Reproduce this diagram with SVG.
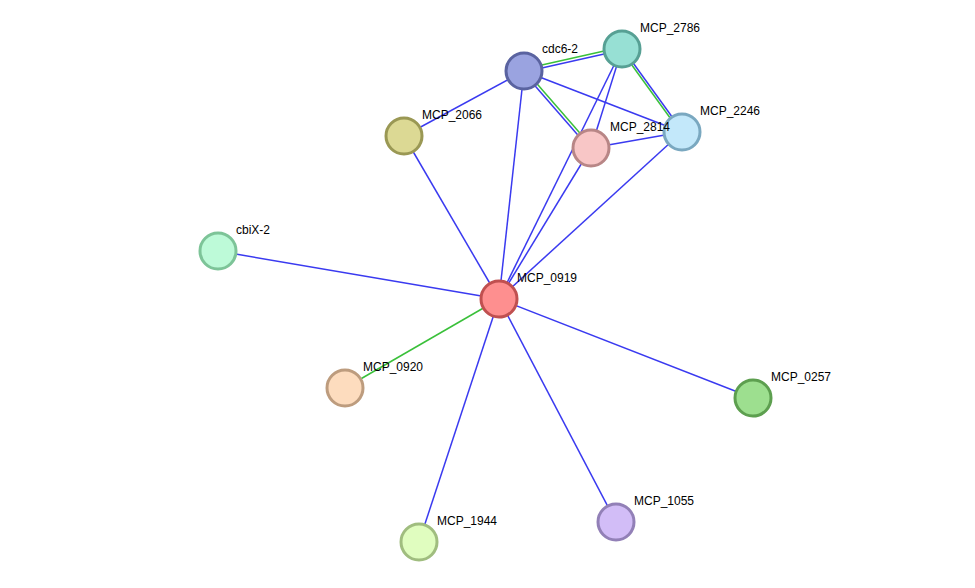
<svg xmlns="http://www.w3.org/2000/svg" width="975" height="588" viewBox="0 0 975 588">
<style>
.b{stroke:#3a3af0;stroke-width:1.5;fill:none}
.g{stroke:#3ac03a;stroke-width:1.5;fill:none}
circle{stroke-width:3}
text{font-family:"Liberation Sans",Arial,sans-serif;font-size:12px;fill:#000}
</style>
<rect width="975" height="588" fill="#fff"/>
<g id="edges">
<line class="b" x1="524" y1="71" x2="499" y2="299"/>
<line class="b" x1="524" y1="71" x2="404" y2="136"/>
<line class="b" x1="524" y1="71" x2="682" y2="132"/>
<line class="b" x1="524" y1="72" x2="622" y2="50"/>
<line class="g" x1="524" y1="69" x2="622" y2="47"/>
<line class="b" x1="523" y1="72" x2="590" y2="149"/>
<line class="g" x1="525" y1="70" x2="592" y2="147"/>
<line class="b" x1="623" y1="49" x2="683" y2="132"/>
<line class="g" x1="621" y1="50" x2="681" y2="133"/>
<line class="b" x1="622" y1="49" x2="591" y2="148"/>
<line class="b" x1="622" y1="49" x2="499" y2="299"/>
<line class="b" x1="591" y1="148" x2="682" y2="132"/>
<line class="b" x1="591" y1="148" x2="499" y2="299"/>
<line class="b" x1="682" y1="132" x2="499" y2="299"/>
<line class="b" x1="404" y1="136" x2="499" y2="299"/>
<line class="b" x1="218" y1="251" x2="499" y2="299"/>
<line class="g" x1="345" y1="388" x2="499" y2="299"/>
<line class="b" x1="753" y1="398" x2="499" y2="299"/>
<line class="b" x1="616" y1="522" x2="499" y2="299"/>
<line class="b" x1="419" y1="542" x2="499" y2="299"/>
</g>
<g id="cdc6-2"><circle cx="524" cy="71" r="18" fill="#9aa3e0" stroke="#5a63a0"/><text x="542" y="53">cdc6-2</text></g>
<g id="MCP_2786"><circle cx="622" cy="49" r="18" fill="#97e0d4" stroke="#57a094"/><text x="640" y="32">MCP_2786</text></g>
<g id="MCP_2246"><circle cx="682" cy="132" r="18" fill="#c3e8fa" stroke="#7aa8c0"/><text x="700" y="115">MCP_2246</text></g>
<g id="MCP_2814"><circle cx="591" cy="148" r="18" fill="#f8c6c6" stroke="#b88686"/><text x="610" y="131">MCP_2814</text></g>
<g id="MCP_2066"><circle cx="404" cy="136" r="18" fill="#dcd994" stroke="#9a9854"/><text x="422" y="119">MCP_2066</text></g>
<g id="cbiX-2"><circle cx="218" cy="251" r="18" fill="#bdfad8" stroke="#7dc498"/><text x="236" y="234">cbiX-2</text></g>
<g id="MCP_0919"><circle cx="499" cy="299" r="18" fill="#fe8f8f" stroke="#c05050"/><text x="517" y="282">MCP_0919</text></g>
<g id="MCP_0920"><circle cx="345" cy="388" r="18" fill="#fddcbe" stroke="#bd9c7e"/><text x="363" y="371">MCP_0920</text></g>
<g id="MCP_0257"><circle cx="753" cy="398" r="18" fill="#9ddf8f" stroke="#5d9f4f"/><text x="771" y="381">MCP_0257</text></g>
<g id="MCP_1055"><circle cx="616" cy="522" r="18" fill="#d2bdf7" stroke="#9280b7"/><text x="634" y="505">MCP_1055</text></g>
<g id="MCP_1944"><circle cx="419" cy="542" r="18" fill="#e0fdbf" stroke="#a0bd7f"/><text x="437" y="525">MCP_1944</text></g>
</svg>
